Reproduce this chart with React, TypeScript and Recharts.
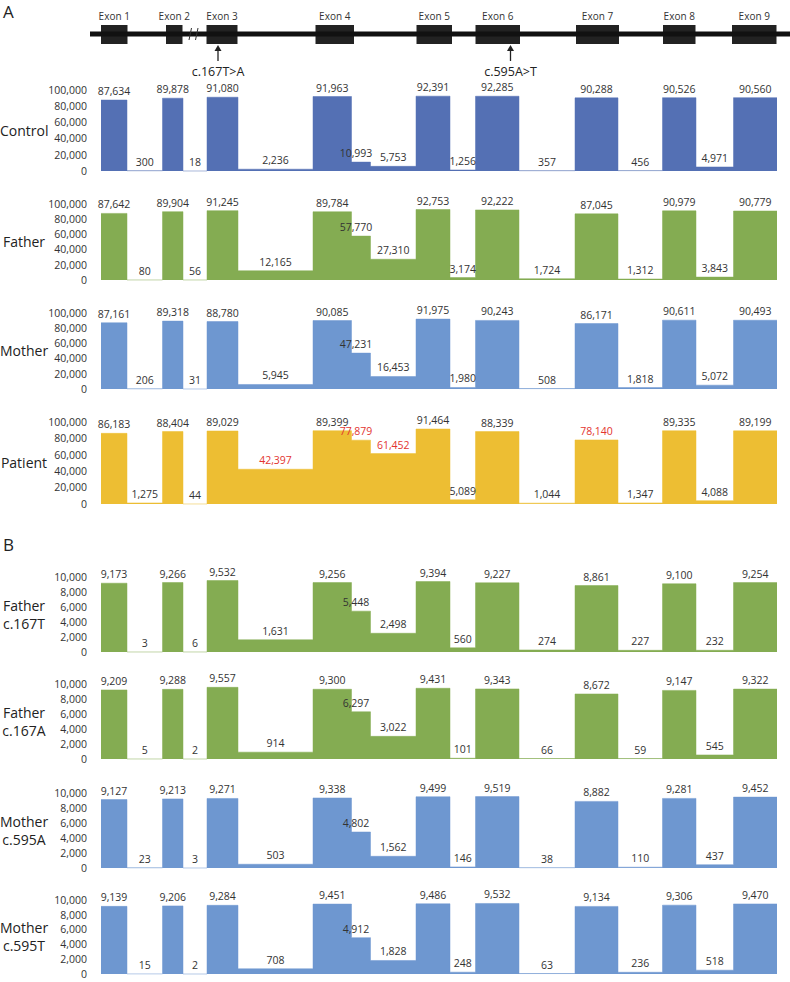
import React from 'react';
import { ComposedChart, Area, Scatter, XAxis, YAxis, ReferenceArea, ReferenceLine } from 'recharts';

// relative gene coordinates of coverage segment boundaries (exon / intron / exon-4 extension)
const segmentBreaks = [0, 26, 61.5, 82, 106, 137, 212, 250.5, 269.5, 315, 349, 374.5, 418, 474, 517, 561.5, 595, 632.5, 676];

// gene diagram
const exonNames = ['Exon 1', 'Exon 2', 'Exon 3', 'Exon 4', 'Exon 5', 'Exon 6', 'Exon 7', 'Exon 8', 'Exon 9'];
const exonStarts = [0, 65, 105.5, 214.5, 315.5, 374.5, 475, 562, 631];
const exonEnds = [26.5, 81.5, 136.5, 253, 351, 419, 518, 594.5, 675.5];
const variantPos = [117, 409.5];
const variantNames = ['c.167T>A', 'c.595A>T'];

// coverage values per segment
const controlCov = [87634, 300, 89878, 18, 91080, 2236, 91963, 10993, 5753, 92391, 1256, 92285, 357, 90288, 456, 90526, 4971, 90560];
const fatherCov = [87642, 80, 89904, 56, 91245, 12165, 89784, 57770, 27310, 92753, 3174, 92222, 1724, 87045, 1312, 90979, 3843, 90779];
const motherCov = [87161, 206, 89318, 31, 88780, 5945, 90085, 47231, 16453, 91975, 1980, 90243, 508, 86171, 1818, 90611, 5072, 90493];
const patientCov = [86183, 1275, 88404, 44, 89029, 42397, 89399, 77879, 61452, 91464, 5089, 88339, 1044, 78140, 1347, 89335, 4088, 89199];
const father167T = [9173, 3, 9266, 6, 9532, 1631, 9256, 5448, 2498, 9394, 560, 9227, 274, 8861, 227, 9100, 232, 9254];
const father167A = [9209, 5, 9288, 2, 9557, 914, 9300, 6297, 3022, 9431, 101, 9343, 66, 8672, 59, 9147, 545, 9322];
const mother595A = [9127, 23, 9213, 3, 9271, 503, 9338, 4802, 1562, 9499, 146, 9519, 38, 8882, 110, 9281, 437, 9452];
const mother595T = [9139, 15, 9206, 2, 9284, 708, 9451, 4912, 1828, 9486, 248, 9532, 63, 9134, 236, 9306, 518, 9470];

const ticksA = [0, 20000, 40000, 60000, 80000, 100000];
const ticksB = [0, 2000, 4000, 6000, 8000, 10000];
const patientHighlighted = [5, 7, 8, 13];

const FONT = '"Open Sans", "Noto Sans", sans-serif';
const C_CONTROL = '#5470B4';
const C_FATHER = '#84AC52';
const C_MOTHER = '#6E97D0';
const C_PATIENT = '#EDBE33';

const panels = [
  { label: ['Control'], values: controlCov, color: C_CONTROL, top: 90, bottom: 171, ticks: ticksA, red: [] as number[] },
  { label: ['Father'], values: fatherCov, color: C_FATHER, top: 204, bottom: 280, ticks: ticksA, red: [] as number[] },
  { label: ['Mother'], values: motherCov, color: C_MOTHER, top: 313, bottom: 389, ticks: ticksA, red: [] as number[] },
  { label: ['Patient'], values: patientCov, color: C_PATIENT, top: 422, bottom: 504, ticks: ticksA, red: patientHighlighted },
  { label: ['Father', 'c.167T'], values: father167T, color: C_FATHER, top: 577, bottom: 652, ticks: ticksB, red: [] as number[] },
  { label: ['Father', 'c.167A'], values: father167A, color: C_FATHER, top: 684, bottom: 759, ticks: ticksB, red: [] as number[] },
  { label: ['Mother', 'c.595A'], values: mother595A, color: C_MOTHER, top: 793, bottom: 868, ticks: ticksB, red: [] as number[] },
  { label: ['Mother', 'c.595T'], values: mother595T, color: C_MOTHER, top: 900, bottom: 974, ticks: ticksB, red: [] as number[] },
];

const fmt = (v: number) => v.toLocaleString('en-US');

const MT = 22;
const MB = 12;

function CoveragePanel({ p }: { p: typeof panels[number] }) {
  const n = p.values.length;
  const stepData = segmentBreaks.map((x, i) => ({ x, v: p.values[Math.min(i, n - 1)] }));
  const labelData = p.values.map((v, i) => ({ x: (segmentBreaks[i] + segmentBreaks[i + 1]) / 2, v, i }));
  const plotH = p.bottom - p.top;
  const max = p.ticks[p.ticks.length - 1];
  const shape = (props: any) => {
    const { cx, cy, payload } = props;
    const dx = payload.i === 7 ? -5 : 0;
    return (
      <text x={cx + dx} y={cy - 5} textAnchor="middle" fontSize={10.5} fontFamily={FONT}
        fill={p.red.includes(payload.i) ? '#E3342F' : '#333'}>{fmt(payload.v)}</text>
    );
  };
  const bottomPad = Math.min(MB, 982 - p.bottom);
  return (
    <div style={{ position: 'absolute', left: 0, top: p.top - MT }}>
      <ComposedChart width={790} height={plotH + MT + bottomPad} margin={{ top: MT, right: 13, bottom: bottomPad, left: 0 }}>
        <XAxis type="number" dataKey="x" domain={[0, 676]} hide />
        <YAxis type="number" domain={[0, max]} ticks={p.ticks} width={101} axisLine={false} tickLine={false}
          tickSize={0} tickMargin={14} interval={0} tickFormatter={fmt}
          tick={{ fontSize: 10.5, fill: '#333', fontFamily: FONT }} />
        <Area data={stepData} type="stepAfter" dataKey="v" stroke={p.color} strokeWidth={0.5}
          fill={p.color} fillOpacity={1} isAnimationActive={false} dot={false} activeDot={false} />
        <Scatter data={labelData} dataKey="v" shape={shape} isAnimationActive={false} />
      </ComposedChart>
      <div style={{ position: 'absolute', left: 0, width: 48, top: MT + plotH / 2 - p.label.length * 9,
        textAlign: 'center', fontFamily: FONT, fontSize: 14, lineHeight: '18px', color: '#222' }}>
        {p.label.map((l) => <div key={l}>{l}</div>)}
      </div>
    </div>
  );
}

function GeneDiagram() {
  const arrowData = variantPos.map((x, i) => ({ x, v: 45, name: variantNames[i] }));
  const arrowShape = (props: any) => {
    const { cx, cy, payload } = props;
    return (
      <g>
        <line x1={cx} y1={cy + 4} x2={cx} y2={cy + 16} stroke="#222" strokeWidth={1.3} />
        <polygon points={`${cx},${cy} ${cx - 3.5},${cy + 6} ${cx + 3.5},${cy + 6}`} fill="#222" />
        <text x={cx} y={cy + 30.5} textAnchor="middle" fontSize={12.5} fontFamily={FONT} fill="#222">{payload.name}</text>
      </g>
    );
  };
  return (
    <div style={{ position: 'absolute', left: 0, top: 0 }}>
      <ComposedChart width={790} height={90} margin={{ top: 0, right: 0, bottom: 0, left: 90 }}>
        <XAxis type="number" dataKey="x" domain={[-11, 689]} hide />
        <YAxis type="number" domain={[0, 90]} hide />
        <ReferenceLine y={56} stroke="#111" strokeWidth={5} />
        <ReferenceArea x1={88} x2={97} y1={50} y2={62} fill="#fff" fillOpacity={1} stroke="none" />
        <ReferenceLine segment={[{ x: 88, y: 50 }, { x: 90.5, y: 62 }]} stroke="#333" strokeWidth={1} />
        <ReferenceLine segment={[{ x: 94.5, y: 50 }, { x: 97, y: 62 }]} stroke="#333" strokeWidth={1} />
        {exonNames.map((name, i) => (
          <ReferenceArea key={name} x1={exonStarts[i]} x2={exonEnds[i]} y1={46} y2={65} fill="#222" fillOpacity={1}
            stroke="none" label={{ value: name, position: 'top', offset: 5, fontSize: 10, fill: '#333', fontFamily: FONT }} />
        ))}
        <Scatter data={arrowData} dataKey="v" shape={arrowShape} isAnimationActive={false} />
      </ComposedChart>
    </div>
  );
}

export default function App() {
  return (
    <div style={{ position: 'absolute', left: 0, top: 0, width: 790, height: 982, background: '#fff', overflow: 'hidden' }}>
      <GeneDiagram />
      {panels.map((p, i) => <CoveragePanel key={i} p={p} />)}
      <div style={{ position: 'absolute', left: 3, top: 0, fontFamily: FONT, fontSize: 17, color: '#222' }}>A</div>
      <div style={{ position: 'absolute', left: 3, top: 533, fontFamily: FONT, fontSize: 17, color: '#222' }}>B</div>
    </div>
  );
}
